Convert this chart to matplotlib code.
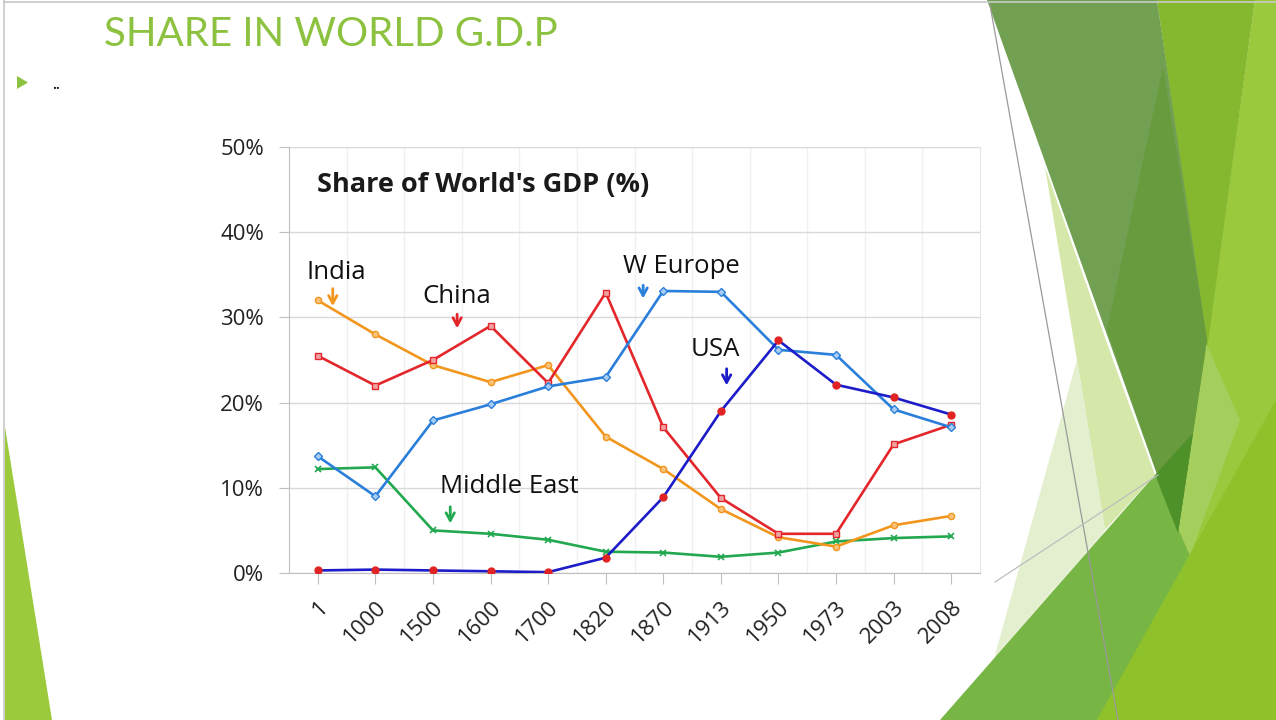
import matplotlib
matplotlib.use("Agg")
import matplotlib.pyplot as plt
from matplotlib.patches import Polygon
from matplotlib.lines import Line2D

# ---------------- data ----------------
years = ["1", "1000", "1500", "1600", "1700", "1820", "1870", "1913", "1950", "1973", "2003", "2008"]
india = [32.0, 28.0, 24.4, 22.4, 24.4, 16.0, 12.2, 7.5, 4.2, 3.1, 5.6, 6.7]
china = [25.5, 22.0, 25.0, 29.0, 22.3, 32.9, 17.1, 8.8, 4.6, 4.6, 15.1, 17.4]
w_europe = [13.7, 9.0, 17.9, 19.8, 21.9, 23.0, 33.1, 33.0, 26.2, 25.6, 19.2, 17.1]
usa = [0.3, 0.4, 0.3, 0.2, 0.1, 1.8, 8.9, 19.0, 27.3, 22.1, 20.6, 18.6]
middle_east = [12.2, 12.4, 5.0, 4.6, 3.9, 2.5, 2.4, 1.9, 2.4, 3.7, 4.1, 4.3]
y_ticks = [0, 10, 20, 30, 40, 50]
y_tick_labels = ["0%", "10%", "20%", "30%", "40%", "50%"]

W, H = 1276, 720
fig = plt.figure(figsize=(W / 100, H / 100), dpi=100)
fig.patch.set_facecolor("white")

# ---------------- slide decoration (pixel space) ----------------
bg = fig.add_axes([0, 0, 1, 1], zorder=0)
bg.set_xlim(0, W)
bg.set_ylim(H, 0)
bg.axis("off")

def poly(pts, color, alpha=1.0, z=1):
    bg.add_patch(Polygon(pts, closed=True, facecolor=color, edgecolor="none", alpha=alpha, zorder=z))

# right-side geometric shapes
poly([(1255, 0), (1276, 0), (1276, 720), (1097, 720), (1207, 345)], "#9BC93D")
poly([(1157, 0), (1255, 0), (1207, 350)], "#86B82F")
poly([(1207, 345), (1240, 420), (1190, 556), (1178, 533), (1193, 433)], "#A4CF5C", z=2)
poly([(987, 0), (1157, 0), (1207, 340), (1178, 533)], "#72A052", z=2)
poly([(1163, 67), (1207, 340), (1178, 533), (1107, 330)], "#679B3D", z=3)
poly([(1045, 167), (1113, 360), (1155, 475), (1105, 530), (1077, 360)], "#D5E8AA", z=2)
poly([(1077, 360), (1105, 530), (995, 655)], "#E4EFD0", z=2)
poly([(995, 655), (1105, 530), (990, 720), (987, 720)], "#E4EFD0", z=2)
poly([(940, 720), (1155, 475), (1180, 533), (1190, 556), (1097, 720)], "#77B545", z=4)
poly([(1155, 475), (1193, 433), (1178, 533)], "#4F9129", z=4)
poly([(1097, 720), (1276, 400), (1276, 720)], "#8FC22A", z=4)
# thin gray theme lines
bg.add_line(Line2D([990, 1118], [5, 720], color="#9A9A9A", lw=0.9, zorder=5))
bg.add_line(Line2D([995, 1158], [582, 475], color="#BDBDBD", lw=0.9, zorder=5))
# left sliver
poly([(5, 427), (5, 720), (52, 720)], "#9BCB3C")
# slide border
bg.add_line(Line2D([4, W], [1.5, 1.5], color="#C8C8C8", lw=1.2, zorder=6))
bg.add_line(Line2D([4, 4], [0, H], color="#C8C8C8", lw=1.2, zorder=6))

# slide title & bullet
fig.text(104 / W, 1 - 35 / H, "SHARE IN WORLD G.D.P", color="#8DC240", fontsize=29,
         family="Lato", ha="left", va="center")
poly([(17, 76), (17, 89), (28, 82.5)], "#8DC240", z=6)
fig.text(52 / W, 1 - 84 / H, "..", color="black", fontsize=12, family="Lato",
         ha="left", va="center")

# ---------------- chart ----------------
ax = fig.add_axes([289 / W, 1 - 573 / H, 691 / W, 426 / H], zorder=10)
ax.patch.set_alpha(0)
x = list(range(len(years)))

lw = 1.9
ax.plot(x, middle_east, color="#22A84F", lw=lw, marker="x", ms=5, mew=1.2, zorder=3)
ax.plot(x, india, color="#F2961E", lw=lw, marker="o", ms=4.5, mfc="#F8C27A", mec="#F2961E", mew=1, zorder=4)
ax.plot(x, china, color="#E3262B", lw=lw, marker="s", ms=5, mfc="#F4A3A3", mec="#E3262B", mew=1, zorder=5)
ax.plot(x, w_europe, color="#2A7FDB", lw=lw, marker="D", ms=4.5, mfc="#A9CDF2", mec="#2A7FDB", mew=1, zorder=6)
ax.plot(x, usa, color="#1C1CC9", lw=lw, marker="o", ms=5, mfc="#E02424", mec="#E02424", zorder=7)

ax.set_xlim(-0.5, len(years) - 0.5)
ax.set_ylim(0, 50)
ax.set_yticks(y_ticks)
ax.set_yticklabels(y_tick_labels)
ax.set_xticks(x)
ax.set_xticklabels(years, rotation=45, ha="right", va="top", rotation_mode="anchor")
ax.set_xticks([i + 0.5 for i in x[:-1]], minor=True)

for lab in ax.get_yticklabels() + ax.get_xticklabels():
    lab.set_family("Open Sans")
    lab.set_fontsize(16)
    lab.set_color("#222222")

ax.tick_params(axis="y", which="major", length=7, color="#BFBFBF", pad=11)
ax.tick_params(axis="x", which="major", length=8, color="#BFBFBF", pad=9)
ax.tick_params(axis="x", which="minor", length=0)
ax.grid(axis="y", which="major", color="#D9D9D9", lw=1)
ax.grid(axis="x", which="minor", color="#F0F0F0", lw=1)
ax.set_axisbelow(True)
ax.spines["top"].set_visible(False)
ax.spines["left"].set_color("#BFBFBF")
ax.spines["bottom"].set_color("#BFBFBF")
ax.spines["right"].set_color("#E6E6E6")

ax.text(-0.02, 45.5, "Share of World's GDP (%)", fontsize=19.5, fontweight="bold",
        family="Open Sans", ha="left", va="center", color="#1A1A1A")

# annotations
ann = [
    ("India", 0.33, 35.3, 0.26, 33.7, 31.0, "#F2961E"),
    ("China", 2.42, 32.5, 2.42, 30.7, 28.4, "#E3262B"),
    ("W Europe", 6.31, 36.0, 5.65, 34.1, 31.9, "#2A7FDB"),
    ("USA", 6.9, 26.2, 7.10, 24.3, 21.7, "#1C1CC9"),
    ("Middle East", 3.32, 10.1, 2.30, 8.1, 5.5, "#22A84F"),
]
for name, tx, ty, axx, y0, y1, col in ann:
    ax.text(tx, ty, name, fontsize=18.5, family="Open Sans", ha="center", va="center", color="#111111", zorder=8)
    ax.annotate("", xy=(axx, y1), xytext=(axx, y0),
                arrowprops=dict(arrowstyle="->,head_length=0.55,head_width=0.3", color=col, lw=2),
                zorder=8)

fig.savefig("out.png", dpi=100)
